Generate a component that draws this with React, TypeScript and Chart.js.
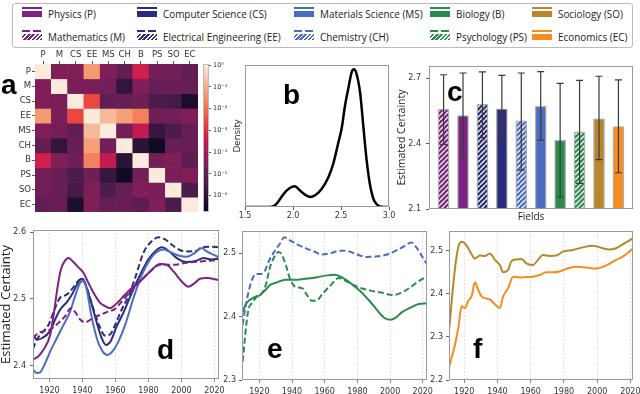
import React, { useEffect, useRef } from 'react';
import { Chart, registerables } from 'chart.js';

Chart.register(...registerables);

// ---------- colours ----------
const PURPLE = '#7B2383';
const NAVY = '#2B2C7C';
const BLUE = '#4B6CC1';
const GREEN = '#2A8B4B';
const GOLD = '#B8862C';
const ORANGE = '#F68D1E';

// ---------- legend ----------
const legendRow1Labels = ['Physics (P)', 'Computer Science (CS)', 'Materials Science (MS)', 'Biology (B)', 'Sociology (SO)'];
const legendRow1Colors = [PURPLE, NAVY, BLUE, GREEN, GOLD];
const legendRow1Hatched = [false, false, false, false, false];
const legendRow2Labels = ['Mathematics (M)', 'Electrical Engineering (EE)', 'Chemistry (CH)', 'Psychology (PS)', 'Economics (EC)'];
const legendRow2Colors = [PURPLE, NAVY, BLUE, GREEN, ORANGE];
const legendRow2Hatched = [true, true, true, true, false];

// ---------- (a) heatmap ----------
const fields = ['P', 'M', 'CS', 'EE', 'MS', 'CH', 'B', 'PS', 'SO', 'EC'];
// log10 of overlap values
const logOverlap = [
  [0, -4.5, -4.5, -1.3, -4.5, -5.0, -3.3, -4.7, -4.7, -5.0],
  [-4.5, 0, -4.6, -4.6, -4.7, -5.9, -4.5, -4.9, -4.9, -4.9],
  [-4.5, -4.6, 0, -2.6, -5.0, -4.9, -4.8, -5.4, -5.5, -6.3],
  [-1.3, -4.6, -2.6, 0, -0.8, -1.2, -1.7, -4.8, -4.7, -4.5],
  [-4.5, -4.7, -5.0, -0.8, 0, -4.7, -3.5, -5.8, -5.4, -4.9],
  [-5.0, -5.9, -4.9, -1.2, -4.7, 0, -6.0, -6.5, -4.9, -4.9],
  [-3.3, -4.5, -4.8, -1.7, -3.5, -6.0, 0, -4.7, -4.5, -5.1],
  [-4.7, -4.9, -5.4, -4.8, -5.8, -6.5, -4.7, 0, -4.6, -4.5],
  [-4.7, -4.9, -5.5, -4.5, -5.4, -4.9, -4.5, -4.6, 0, -5.4],
  [-5.0, -4.9, -6.3, -4.5, -4.9, -4.9, -5.1, -4.5, -5.4, 0],
];
const cbTicks = [0, -1, -2, -3, -4, -5, -6];
const CB_MIN = -6.75;
const CB_MAX = 0.05;

// ---------- (b) density ----------
const densX = [1.5, 1.7, 1.78, 1.83, 1.88, 1.93, 1.99, 2.02, 2.07, 2.125, 2.18, 2.23, 2.3, 2.37, 2.42, 2.47, 2.51, 2.54, 2.58, 2.61, 2.635, 2.66, 2.7, 2.733, 2.767, 2.8, 2.837, 2.872, 2.924, 3.0];
const densY = [0, 0, 0.002, 0.024, 0.073, 0.117, 0.146, 0.15, 0.121, 0.09, 0.073, 0.085, 0.133, 0.218, 0.316, 0.461, 0.583, 0.728, 0.874, 0.976, 1.0, 0.971, 0.825, 0.583, 0.34, 0.17, 0.06, 0.02, 0.002, 0];
const densTicks = [1.5, 2.0, 2.5, 3.0];

// ---------- (c) bars ----------
const barFields = ['Mathematics', 'Physics', 'Electrical Engineering', 'Computer Science', 'Chemistry', 'Materials Science', 'Biology', 'Psychology', 'Sociology', 'Economics'];
const barColors = [PURPLE, PURPLE, NAVY, NAVY, BLUE, BLUE, GREEN, GREEN, GOLD, ORANGE];
const barHatched = [true, false, true, false, true, false, false, true, false, false];
const barMeans = [2.557, 2.528, 2.58, 2.559, 2.504, 2.57, 2.415, 2.453, 2.513, 2.478];
const barErrHigh = [2.715, 2.723, 2.728, 2.712, 2.723, 2.729, 2.675, 2.689, 2.708, 2.691];
const barErrLow = [2.396, 2.336, 2.427, 2.412, 2.278, 2.415, 2.155, 2.217, 2.326, 2.266];
const barTicks = [2.1, 2.4, 2.7];

// ---------- (d) ----------
const physicsYears = [1910, 1913.3, 1916.4, 1920.4, 1922.8, 1924.8, 1926.9, 1928.9, 1931.5, 1934.5, 1937.6, 1940.6, 1943.6, 1946.7, 1950.7, 1953.7, 1956.8, 1959.8, 1963.8, 1968.9, 1975, 1981, 1987.1, 1991.1, 1995.2, 2000.2, 2004.2, 2008.3, 2011.3, 2015.4, 2022.8];
const physicsVals = [2.409, 2.414, 2.424, 2.446, 2.481, 2.516, 2.544, 2.555, 2.561, 2.555, 2.547, 2.539, 2.524, 2.509, 2.494, 2.489, 2.486, 2.491, 2.501, 2.514, 2.526, 2.541, 2.552, 2.551, 2.541, 2.526, 2.518, 2.524, 2.53, 2.531, 2.528];
const mathYears = [1910, 1913.3, 1917.4, 1920.4, 1925.5, 1929.5, 1932.9, 1935.6, 1938.6, 1941.6, 1945.7, 1950.7, 1954.7, 1959.8, 1963.8, 1970.9, 1979, 1987.1, 1995.2, 2003.2, 2011.3, 2022.8];
const mathVals = [2.441, 2.449, 2.452, 2.454, 2.464, 2.474, 2.486, 2.48, 2.469, 2.465, 2.47, 2.476, 2.48, 2.485, 2.496, 2.516, 2.536, 2.551, 2.551, 2.554, 2.556, 2.558];
const csYears = [1910, 1912.3, 1915.4, 1920.4, 1923.4, 1926.5, 1930.5, 1933.5, 1936.2, 1938.6, 1940.2, 1942.6, 1945.7, 1948.7, 1951.7, 1954.3, 1957.2, 1960.8, 1964.8, 1969.9, 1975, 1980, 1984, 1988.1, 1992.1, 1997.2, 2003.2, 2009.3, 2013.3, 2018.4, 2022.8];
const csVals = [2.446, 2.439, 2.441, 2.452, 2.469, 2.484, 2.495, 2.506, 2.519, 2.529, 2.53, 2.516, 2.491, 2.464, 2.441, 2.431, 2.437, 2.459, 2.479, 2.509, 2.536, 2.559, 2.571, 2.577, 2.572, 2.561, 2.555, 2.557, 2.561, 2.559, 2.56];
const eeYears = [1910, 1912.3, 1915.4, 1919.4, 1923.4, 1926.5, 1929.5, 1932.5, 1935.6, 1938.6, 1941, 1943.6, 1946.7, 1950.3, 1953.7, 1956.8, 1959.8, 1963.8, 1967.9, 1971.9, 1977, 1982, 1986.1, 1990.1, 1995.2, 2000.2, 2004.2, 2009.3, 2012.3, 2017.4, 2022.8];
const eeVals = [2.425, 2.439, 2.449, 2.461, 2.486, 2.502, 2.505, 2.511, 2.521, 2.529, 2.526, 2.509, 2.484, 2.459, 2.445, 2.447, 2.461, 2.484, 2.504, 2.531, 2.569, 2.586, 2.592, 2.589, 2.579, 2.572, 2.571, 2.572, 2.577, 2.578, 2.577];
const msYears = [1910, 1912.3, 1914.3, 1917.4, 1920.4, 1924.4, 1928.5, 1932.5, 1936.2, 1938.6, 1940.6, 1942.6, 1945.1, 1948.7, 1952.3, 1955.2, 1958.4, 1961.8, 1965.9, 1970.9, 1976, 1981, 1985, 1989.1, 1994.1, 1999.2, 2003.2, 2008.3, 2012.3, 2015.4, 2019.4, 2022.8];
const msVals = [2.394, 2.389, 2.39, 2.404, 2.421, 2.441, 2.461, 2.481, 2.509, 2.524, 2.527, 2.514, 2.479, 2.441, 2.421, 2.416, 2.422, 2.436, 2.461, 2.501, 2.536, 2.559, 2.57, 2.574, 2.569, 2.564, 2.563, 2.569, 2.576, 2.571, 2.566, 2.562];

// ---------- (e) ----------
const chemYears = [1909.8, 1911.4, 1913.5, 1915.5, 1917.6, 1920.6, 1923.1, 1926.3, 1929.8, 1932.9, 1935.3, 1939, 1943.1, 1948.2, 1953.3, 1958.4, 1963.5, 1969.6, 1974.7, 1979.8, 1985.9, 1992, 1998.2, 2004.3, 2009.4, 2012.9, 2016.1, 2019.6, 2022.6];
const chemVals = [2.387, 2.413, 2.44, 2.458, 2.467, 2.467, 2.471, 2.49, 2.505, 2.516, 2.525, 2.52, 2.514, 2.508, 2.503, 2.498, 2.5, 2.504, 2.503, 2.498, 2.494, 2.495, 2.498, 2.505, 2.512, 2.517, 2.509, 2.495, 2.482];
const bioYears = [1909.8, 1911.4, 1913.5, 1916.5, 1920.6, 1923.7, 1926.7, 1930.8, 1935.9, 1943.1, 1949.2, 1955.3, 1961.4, 1965.9, 1970.6, 1975.7, 1981.8, 1988, 1993.1, 1997.1, 2000.2, 2003.3, 2007.3, 2012.4, 2017.6, 2022.6];
const bioVals = [2.407, 2.418, 2.425, 2.43, 2.434, 2.442, 2.45, 2.454, 2.458, 2.458, 2.46, 2.462, 2.465, 2.466, 2.462, 2.453, 2.44, 2.423, 2.407, 2.397, 2.395, 2.398, 2.407, 2.414, 2.42, 2.421];
const psyYears = [1909.8, 1910.8, 1912, 1913.5, 1915.5, 1918.6, 1921.6, 1924.3, 1926.3, 1928.8, 1931.8, 1933.9, 1936.5, 1939, 1942, 1946.1, 1949.2, 1952.2, 1954.9, 1958.4, 1963.5, 1968.6, 1973.7, 1979.8, 1988, 1996.1, 2001.2, 2006.3, 2012.4, 2017.6, 2022.6];
const psyVals = [2.329, 2.355, 2.387, 2.413, 2.421, 2.432, 2.437, 2.453, 2.476, 2.492, 2.502, 2.497, 2.479, 2.458, 2.447, 2.445, 2.434, 2.425, 2.425, 2.435, 2.449, 2.461, 2.455, 2.447, 2.441, 2.437, 2.434, 2.437, 2.446, 2.456, 2.463];

// ---------- (f) ----------
const socYears = [1910.8, 1912.4, 1914.4, 1916.4, 1918.4, 1920.4, 1922.4, 1924.4, 1926.4, 1929.4, 1932.4, 1935.4, 1938.4, 1941.4, 1943.4, 1946.4, 1948.4, 1951.4, 1954.4, 1957.4, 1961.4, 1964.4, 1967.4, 1971.4, 1975.4, 1979.4, 1985.4, 1991.4, 1997.4, 2002.4, 2007.4, 2011.4, 2015.4, 2021.6];
const socVals = [2.313, 2.382, 2.459, 2.509, 2.521, 2.517, 2.506, 2.492, 2.482, 2.489, 2.488, 2.494, 2.479, 2.467, 2.45, 2.456, 2.476, 2.48, 2.481, 2.471, 2.467, 2.479, 2.49, 2.488, 2.489, 2.498, 2.502, 2.508, 2.512, 2.507, 2.503, 2.506, 2.515, 2.529];
const econYears = [1910.8, 1912.4, 1914.4, 1916.4, 1918.4, 1920.4, 1922.4, 1924.4, 1926.4, 1928.4, 1930.4, 1932.4, 1935.4, 1938.4, 1941.4, 1943.4, 1946.4, 1949.4, 1953.4, 1957.4, 1961.4, 1965.4, 1969.4, 1973.4, 1977.4, 1981.4, 1987.4, 1993.4, 1999.4, 2005.4, 2011.4, 2016.4, 2021.6];
const econVals = [2.229, 2.252, 2.282, 2.321, 2.371, 2.367, 2.384, 2.394, 2.427, 2.409, 2.394, 2.39, 2.387, 2.376, 2.367, 2.394, 2.413, 2.44, 2.438, 2.439, 2.44, 2.444, 2.45, 2.45, 2.452, 2.458, 2.463, 2.461, 2.459, 2.466, 2.479, 2.489, 2.505];

const yearTicks = [1920, 1940, 1960, 1980, 2000, 2020];

// ---------- helpers ----------
const TICK_FONT = { family: 'DejaVu Sans', size: 8 };
const TICK_COLOR = '#333';
const LABEL_FONT = 'Open Sans';

const rocketStops: [number, number, number, number][] = [
  [0.0, 3, 5, 26], [0.1, 40, 18, 54], [0.2, 76, 29, 75], [0.3, 113, 31, 87], [0.4, 157, 27, 91],
  [0.5, 203, 27, 79], [0.6, 232, 64, 63], [0.7, 243, 110, 77], [0.8, 245, 150, 108], [0.9, 246, 193, 163], [1.0, 250, 235, 221],
];
function rocket(t: number) {
  const tt = Math.max(0, Math.min(1, t));
  for (let i = 1; i < rocketStops.length; i++) {
    const a = rocketStops[i - 1], b = rocketStops[i];
    if (tt <= b[0]) {
      const f = (tt - a[0]) / (b[0] - a[0]);
      const c = [1, 2, 3].map(k => Math.round(a[k] + (b[k] - a[k]) * f));
      return `rgb(${c[0]},${c[1]},${c[2]})`;
    }
  }
  return 'rgb(250,235,221)';
}
const logToColor = (v: number) => rocket((v - CB_MIN) / (0 - CB_MIN));

const SUP: Record<string, string> = { '0': '⁰', '1': '¹', '2': '²', '3': '³', '4': '⁴', '5': '⁵', '6': '⁶', '-': '⁻' };
const sup = (v: number) => '10' + String(Math.round(v)).split('').map(ch => SUP[ch] || ch).join('');

const fixSize = (size: number) => (s: any) => {
  if (s.isHorizontal()) s.height = size; else s.width = size;
  s.paddingLeft = 0; s.paddingRight = 0; s.paddingTop = 0; s.paddingBottom = 0;
};
const setTicks = (vals: number[]) => (s: any) => { s.ticks = vals.map(v => ({ value: v })); };

const framePlugin = (color = '#9a9a9a') => ({
  id: 'frame',
  afterDraw(chart: any) {
    const { left, top, right, bottom } = chart.chartArea;
    const c = chart.ctx;
    c.save();
    c.strokeStyle = color;
    c.lineWidth = 1;
    c.strokeRect(Math.round(left) + 0.5, Math.round(top) + 0.5, Math.round(right - left) - 1, Math.round(bottom - top) - 1);
    c.restore();
  },
});

function hatchPattern(color: string) {
  const s = 5;
  const cv = document.createElement('canvas');
  cv.width = s; cv.height = s;
  const g = cv.getContext('2d')!;
  g.fillStyle = color;
  g.fillRect(0, 0, s, s);
  g.strokeStyle = 'rgba(255,255,255,0.95)';
  g.lineWidth = 1.4;
  g.beginPath();
  for (let k = -s; k <= s; k += s) { g.moveTo(k, s); g.lineTo(k + s, 0); }
  g.stroke();
  return g.createPattern(cv, 'repeat');
}

const baseOptions = (padding: any) => ({
  responsive: false,
  animation: false as const,
  events: [] as any[],
  layout: { padding },
  plugins: { legend: { display: false }, tooltip: { enabled: false } },
});

type Box = { l: number; t: number; w: number; h: number };

function ChartCanvas({ box, build }: { box: Box; build: () => any }) {
  const ref = useRef<HTMLCanvasElement | null>(null);
  useEffect(() => {
    if (!ref.current) return;
    const chart = new Chart(ref.current, build());
    return () => chart.destroy();
  }, []);
  return (
    <canvas
      ref={ref}
      width={box.w}
      height={box.h}
      style={{ position: 'absolute', left: box.l, top: box.t, width: box.w, height: box.h }}
    />
  );
}

// ---------- chart configs ----------
function heatmapConfig() {
  return {
    type: 'bar',
    data: {
      labels: fields,
      datasets: fields.map((_, i) => ({
        data: fields.map(() => [i, i + 1]),
        backgroundColor: fields.map((__, j) => logToColor(logOverlap[i][j])),
        borderWidth: 0,
        grouped: false,
        barPercentage: 1,
        categoryPercentage: 1,
      })),
    },
    options: {
      ...baseOptions({ left: 0, top: 0, right: 2, bottom: 4 }),
      scales: {
        x: {
          type: 'category', position: 'top', afterFit: fixSize(24),
          grid: { display: true, drawOnChartArea: false, offset: false, tickLength: 3, tickColor: '#555' },
          border: { display: false },
          ticks: { font: { family: 'DejaVu Sans', size: 8.5 }, color: TICK_COLOR, padding: 1, maxRotation: 0, autoSkip: false },
        },
        y: {
          type: 'linear', min: 0, max: 10, reverse: true, afterFit: fixSize(35),
          afterBuildTicks: setTicks(fields.map((_, i) => i + 0.5)),
          grid: { display: true, drawOnChartArea: false, tickLength: 3, tickColor: '#555' },
          border: { display: false },
          ticks: { font: { family: 'DejaVu Sans', size: 8.5 }, color: TICK_COLOR, padding: 1, callback: (_v: any, i: number) => fields[i] },
        },
      },
    },
  };
}

function colorbarConfig() {
  return {
    type: 'bar',
    data: {
      labels: ['cb'],
      datasets: [{
        data: [[CB_MIN, 0]],
        barPercentage: 1,
        categoryPercentage: 1,
        borderWidth: 0,
        backgroundColor: (ctx: any) => {
          const chart = ctx.chart;
          const y = chart.scales.y;
          if (!chart.chartArea || !y) return '#888';
          const g = chart.ctx.createLinearGradient(0, y.getPixelForValue(CB_MIN), 0, y.getPixelForValue(0));
          rocketStops.forEach(s => g.addColorStop(s[0], `rgb(${s[1]},${s[2]},${s[3]})`));
          return g;
        },
      }],
    },
    options: {
      ...baseOptions({ left: 5, top: 24, right: 0, bottom: 4 }),
      scales: {
        x: { display: false },
        y: {
          type: 'linear', position: 'right', min: CB_MIN, max: CB_MAX, afterFit: fixSize(31),
          afterBuildTicks: setTicks(cbTicks),
          grid: { display: true, drawOnChartArea: false, tickLength: 2, tickColor: '#555' },
          border: { display: false },
          ticks: { font: { family: 'DejaVu Sans', size: 6.5 }, color: TICK_COLOR, padding: 2, callback: (v: any) => sup(Number(v)) },
        },
      },
    },
    plugins: [framePlugin('#bbb')],
  };
}

function densityConfig() {
  return {
    type: 'line',
    data: {
      datasets: [{
        data: densX.map((x, i) => ({ x, y: densY[i] })),
        borderColor: '#000', borderWidth: 2.5, pointRadius: 0, cubicInterpolationMode: 'monotone', fill: false,
      }],
    },
    options: {
      ...baseOptions({ left: 0, top: 10, right: 9, bottom: 0 }),
      scales: {
        x: {
          type: 'linear', min: 1.5, max: 3.0, afterFit: fixSize(13),
          afterBuildTicks: setTicks(densTicks),
          grid: { display: true, drawOnChartArea: false, tickLength: 3, tickColor: '#555' },
          border: { display: false },
          ticks: { font: TICK_FONT, color: TICK_COLOR, padding: 1, maxRotation: 0, callback: (v: any) => Number(v).toFixed(1) },
        },
        y: {
          type: 'linear', min: 0, max: 1.031, afterFit: fixSize(25),
          grid: { display: false }, border: { display: false },
          ticks: { display: false },
          title: { display: true, text: 'Density', color: '#222', font: { family: LABEL_FONT, size: 9.5 }, padding: { top: 12, bottom: 0 } },
        },
      },
    },
    plugins: [framePlugin()],
  };
}

function barConfig() {
  const fills = barColors.map((c, i) => (barHatched[i] ? hatchPattern(c) : c));
  const errorBars = {
    id: 'errbars',
    afterDatasetsDraw(chart: any) {
      const { x, y } = chart.scales;
      const c = chart.ctx;
      c.save();
      c.strokeStyle = '#3a3a3a';
      c.lineWidth = 1.2;
      barMeans.forEach((_, i) => {
        const px = x.getPixelForValue(i);
        const lo = y.getPixelForValue(barErrLow[i]);
        const hi = y.getPixelForValue(barErrHigh[i]);
        c.beginPath();
        c.moveTo(px, lo); c.lineTo(px, hi);
        c.moveTo(px - 3.5, lo); c.lineTo(px + 3.5, lo);
        c.moveTo(px - 3.5, hi); c.lineTo(px + 3.5, hi);
        c.stroke();
      });
      c.restore();
    },
  };
  return {
    type: 'bar',
    data: {
      labels: barFields,
      datasets: [{
        data: barMeans.map((v, i) => ({ x: i, y: v })),
        backgroundColor: fills,
        borderColor: 'rgba(160,160,160,0.85)',
        borderWidth: 1.3,
        borderSkipped: false,
        barThickness: 11,
      }],
    },
    options: {
      ...baseOptions({ left: 0, top: 11, right: 7, bottom: 0 }),
      scales: {
        x: {
          type: 'linear', offset: false, min: -0.75, max: 9.75, afterFit: fixSize(21),
          grid: { display: false }, border: { display: false }, ticks: { display: false },
          title: { display: true, text: 'Fields', color: '#222', font: { family: LABEL_FONT, size: 10 }, padding: { top: 0, bottom: 7 } },
        },
        y: {
          type: 'linear', min: 2.1, max: 2.755, afterFit: fixSize(34),
          afterBuildTicks: setTicks(barTicks),
          grid: { display: true, drawOnChartArea: false, tickLength: 3, tickColor: '#555' },
          border: { display: false },
          ticks: { font: TICK_FONT, color: TICK_COLOR, padding: 5, callback: (v: any) => Number(v).toFixed(1) },
          title: { display: true, text: 'Estimated Certainty', color: '#222', font: { family: LABEL_FONT, size: 10.5 }, padding: { top: 1, bottom: 0 } },
        },
      },
    },
    plugins: [errorBars, framePlugin()],
  };
}

type Series = { years: number[]; vals: number[]; color: string; dashed: boolean };

function lineConfig(p: {
  series: Series[]; xMin: number; xMax: number; yMin: number; yMax: number; yTicks: number[];
  yWidth: number; xHeight: number; padding: any; yTickPad: number; title?: string; titleSize?: number; titlePad?: number;
}) {
  return {
    type: 'line',
    data: {
      datasets: p.series.map(s => ({
        data: s.years.map((yr, i) => ({ x: yr, y: s.vals[i] })),
        borderColor: s.color,
        borderWidth: 2,
        borderDash: s.dashed ? [6, 3] : [],
        pointRadius: 0,
        cubicInterpolationMode: 'monotone',
        fill: false,
      })),
    },
    options: {
      ...baseOptions(p.padding),
      scales: {
        x: {
          type: 'linear', min: p.xMin, max: p.xMax, afterFit: fixSize(p.xHeight),
          afterBuildTicks: setTicks(yearTicks),
          grid: { display: true, color: '#cfcfcf', lineWidth: 0.8, tickLength: 3, tickColor: '#666', tickBorderDash: [], borderDash: [1.5, 2] },
          border: { display: false, dash: [1.5, 2] },
          ticks: { font: TICK_FONT, color: TICK_COLOR, padding: 4, maxRotation: 0, autoSkip: false, callback: (v: any) => String(v) },
        },
        y: {
          type: 'linear', min: p.yMin, max: p.yMax, afterFit: fixSize(p.yWidth),
          afterBuildTicks: setTicks(p.yTicks),
          grid: { display: true, drawOnChartArea: false, tickLength: 3, tickColor: '#666' },
          border: { display: false },
          ticks: { font: TICK_FONT, color: TICK_COLOR, padding: p.yTickPad, callback: (v: any) => Number(v).toFixed(1) },
          title: p.title
            ? { display: true, text: p.title, color: '#222', font: { family: LABEL_FONT, size: p.titleSize || 12 }, padding: { top: p.titlePad || 0, bottom: 0 } }
            : { display: false },
        },
      },
    },
    plugins: [framePlugin()],
  };
}

const panelD: Series[] = [
  { years: mathYears, vals: mathVals, color: PURPLE, dashed: true },
  { years: physicsYears, vals: physicsVals, color: PURPLE, dashed: false },
  { years: msYears, vals: msVals, color: BLUE, dashed: false },
  { years: csYears, vals: csVals, color: NAVY, dashed: false },
  { years: eeYears, vals: eeVals, color: NAVY, dashed: true },
];
const panelE: Series[] = [
  { years: chemYears, vals: chemVals, color: BLUE, dashed: true },
  { years: psyYears, vals: psyVals, color: GREEN, dashed: true },
  { years: bioYears, vals: bioVals, color: GREEN, dashed: false },
];
const panelF: Series[] = [
  { years: socYears, vals: socVals, color: GOLD, dashed: false },
  { years: econYears, vals: econVals, color: ORANGE, dashed: false },
];

// ---------- HTML pieces ----------
function LegendEntry({ x, rowTop, label, color, hatched, dashed }: any) {
  return (
    <>
      <div style={{
        position: 'absolute', left: x, top: rowTop, width: 20, height: 2,
        background: dashed ? `repeating-linear-gradient(90deg, ${color} 0 8px, transparent 8px 11px)` : color,
      }} />
      <div style={{
        position: 'absolute', left: x, top: rowTop + 4, width: 20, height: 6,
        background: hatched ? `repeating-linear-gradient(-45deg, ${color} 0 1.7px, #fff 1.7px 3px)` : color,
      }} />
      <span style={{
        position: 'absolute', left: x + 26, top: rowTop - 1, fontFamily: LABEL_FONT, fontSize: 11.5, lineHeight: '16px',
        color: '#222', whiteSpace: 'nowrap', transform: 'scaleX(0.86)', transformOrigin: '0 50%',
      }}>{label}</span>
    </>
  );
}

const legendCols = [22, 137, 294, 430, 532];

function PanelLetter({ ch, left, baseline }: { ch: string; left: number; baseline: number }) {
  return (
    <span style={{
      position: 'absolute', left, top: baseline - 23.7, fontFamily: 'Liberation Sans', fontWeight: 700,
      fontSize: 28, lineHeight: '28px', color: '#000',
    }}>{ch}</span>
  );
}

export default function App() {
  return (
    <div style={{ position: 'fixed', left: 0, top: 0, width: 640, height: 394, background: '#fff', overflow: 'hidden' }}>
      {/* legend */}
      <div style={{ position: 'absolute', left: 12, top: 3, width: 619, height: 43, border: '1px solid #bbb', borderRadius: 3 }} />
      {legendRow1Labels.map((lab, i) => (
        <LegendEntry key={'r1' + i} x={legendCols[i]} rowTop={7} label={lab} color={legendRow1Colors[i]} hatched={legendRow1Hatched[i]} dashed={legendRow1Hatched[i]} />
      ))}
      {legendRow2Labels.map((lab, i) => (
        <LegendEntry key={'r2' + i} x={legendCols[i]} rowTop={30} label={lab} color={legendRow2Colors[i]} hatched={legendRow2Hatched[i]} dashed={legendRow2Hatched[i]} />
      ))}

      <ChartCanvas box={{ l: 0, t: 40, w: 200, h: 176 }} build={heatmapConfig} />
      <ChartCanvas box={{ l: 198, t: 40, w: 42, h: 176 }} build={colorbarConfig} />
      <ChartCanvas box={{ l: 220, t: 55, w: 178, h: 165 }} build={densityConfig} />
      <ChartCanvas box={{ l: 395, t: 55, w: 245, h: 175 }} build={barConfig} />
      <ChartCanvas
        box={{ l: 0, t: 222, w: 230, h: 172 }}
        build={() => lineConfig({
          series: panelD, xMin: 1910, xMax: 2022.8, yMin: 2.38, yMax: 2.603, yTicks: [2.4, 2.5, 2.6],
          yWidth: 33, xHeight: 15, padding: { left: 0, top: 8, right: 11, bottom: 0 }, yTickPad: 4,
          title: 'Estimated Certainty', titleSize: 13, titlePad: -2,
        })}
      />
      <ChartCanvas
        box={{ l: 215, t: 222, w: 218, h: 172 }}
        build={() => lineConfig({
          series: panelE, xMin: 1909.4, xMax: 2022.6, yMin: 2.3, yMax: 2.535, yTicks: [2.3, 2.4, 2.5],
          yWidth: 27, xHeight: 14, padding: { left: 0, top: 9, right: 6, bottom: 0 }, yTickPad: 3,
        })}
      />
      <ChartCanvas
        box={{ l: 425, t: 222, w: 215, h: 172 }}
        build={() => lineConfig({
          series: panelF, xMin: 1910.8, xMax: 2021.6, yMin: 2.2, yMax: 2.546, yTicks: [2.2, 2.3, 2.4, 2.5],
          yWidth: 24, xHeight: 14, padding: { left: 0, top: 9, right: 7, bottom: 0 }, yTickPad: 3,
        })}
      />

      <PanelLetter ch="a" left={1} baseline={95} />
      <PanelLetter ch="b" left={283} baseline={105} />
      <PanelLetter ch="c" left={447} baseline={102} />
      <PanelLetter ch="d" left={157} baseline={360} />
      <PanelLetter ch="e" left={267} baseline={359} />
      <PanelLetter ch="f" left={473} baseline={359} />
    </div>
  );
}
